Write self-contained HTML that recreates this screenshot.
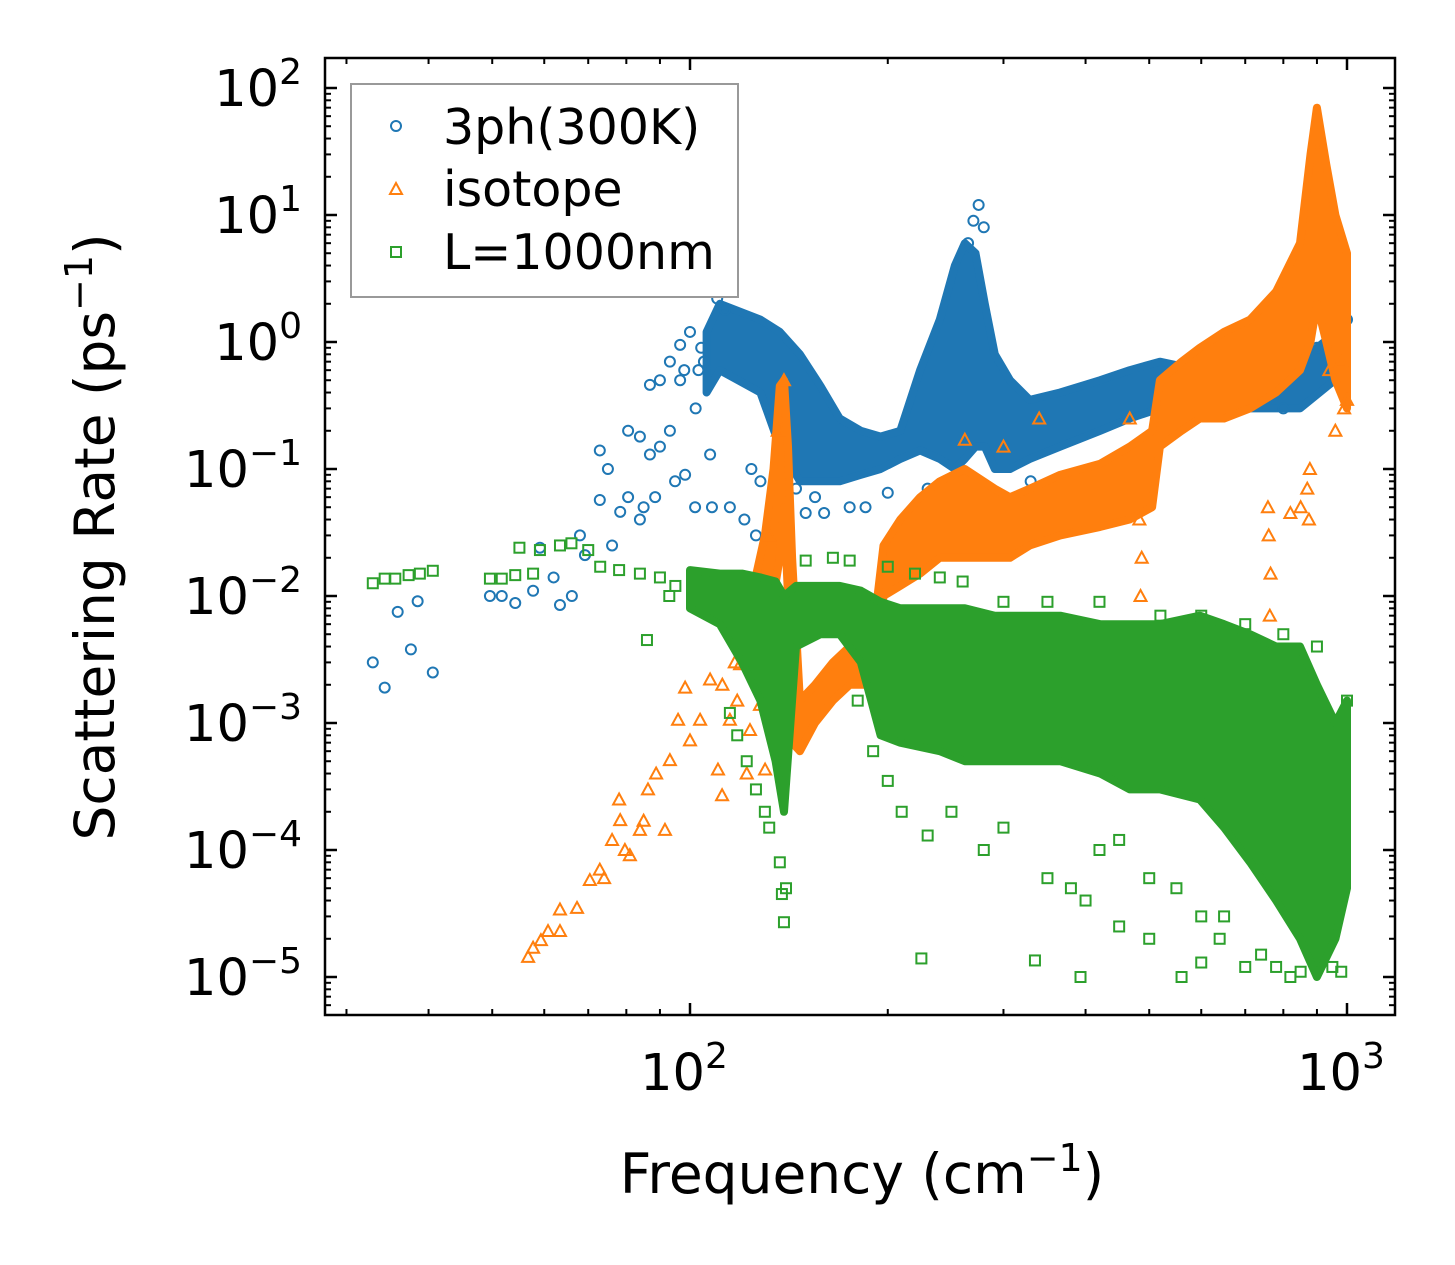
<!DOCTYPE html>
<html><head><meta charset="utf-8">
<style>
html,body{margin:0;padding:0;background:#fff;}
svg{display:block;font-family:"DejaVu Sans","Liberation Sans",sans-serif;}
</style></head>
<body>
<svg id="chart" width="1455" height="1265" viewBox="0 0 1455 1265" xmlns="http://www.w3.org/2000/svg">
<rect width="1455" height="1265" fill="#fff"/>
<g id="plot"></g>
<g id="axes"></g>
<text x="862" y="1193" font-size="55" text-anchor="middle">Frequency (cm<tspan font-size="38" dy="-22">−1</tspan><tspan dy="22">)</tspan></text>
<text transform="translate(114,537) rotate(-90)" font-size="55" text-anchor="middle">Scattering Rate (ps<tspan font-size="38" dy="-22">−1</tspan><tspan dy="22">)</tspan></text>
<g>
<rect x="351" y="84" width="387" height="213" fill="#fff" stroke="#999" stroke-width="2"/>
<circle cx="396" cy="126" r="5" fill="none" stroke="#1f77b4" stroke-width="2"/>
<text x="443" y="144" font-size="49">3ph(300K)</text>
<polygon points="396,183 402,194 390,194" fill="none" stroke="#ff7f0e" stroke-width="2"/>
<text x="443" y="206" font-size="49">isotope</text>
<rect x="391" y="247" width="10" height="10" fill="none" stroke="#2ca02c" stroke-width="2"/>
<text x="443" y="269" font-size="49">L=1000nm</text>
</g>
</svg>
<script>
// ---- data ----
const blueBand = [[106,0.4,1.2],[111,0.6,2.0],[128,0.4,1.5],[137,0.15,1.2],[147,0.08,0.8],[158,0.08,0.45],[169,0.08,0.25],[182,0.09,0.2],[195,0.1,0.18],[209,0.12,0.2],[224,0.14,0.6],[240,0.12,1.5],[253,0.1,4],[262,0.12,6],[272,0.15,5],[281,0.15,2],[291,0.1,0.8],[307,0.1,0.5],[329,0.12,0.35],[366,0.15,0.4],[421,0.2,0.5],[467,0.25,0.6],[519,0.3,0.7],[597,0.3,0.6],[712,0.3,0.6],[848,0.3,0.7],[1000,0.6,1.4]];
const bluePts = [[32.9,0.0030],[34.3,0.0019],[35.9,0.0075],[37.6,0.0038],[38.5,0.0091],[40.6,0.0025],[49.6,0.0100],[51.7,0.0100],[54.2,0.0088],[57.7,0.011],[59.1,0.024],[63.4,0.0085],[66.1,0.010],[69.2,0.021],[72.9,0.057],[76.1,0.025],[78.3,0.046],[80.5,0.06],[83.9,0.04],[86.9,0.13],[88.5,0.06],[90,0.15],[93.2,0.2],[94.9,0.08],[96.6,0.5],[98.3,0.09],[101.8,0.05],[107.3,0.13],[108,0.05],[115,0.05],[121,0.04],[124,0.1],[72.9,0.14],[75,0.1],[80.5,0.2],[83.9,0.18],[86.9,0.46],[90,0.5],[93.2,0.7],[96.6,0.95],[100,1.2],[98,0.6],[105,0.7],[110,2.2],[140,0.05],[150,0.045],[160,0.045],[175,0.05],[185,0.05],[200,0.065],[230,0.07],[250,0.06],[300,0.06],[330,0.08],[133,0.04],[126,0.03],[128,0.08],[275,12],[270,9],[265,6],[280,8],[950,1.3],[1000,1.5],[900,0.9],[800,0.3],[62,0.014],[68,0.03],[85,0.05],[103,0.6],[113,1.8],[104,0.9],[102,0.3],[145,0.07],[155,0.06]];
const orangeBand = [[125,0.004,0.012],[130,0.005,0.03],[134,0.01,0.1],[137,0.02,0.45],[139,0.05,0.5],[141,0.01,0.15],[143,0.0007,0.02],[147,0.0006,0.0015],[155,0.001,0.002],[165,0.0015,0.003],[175,0.002,0.004],[185,0.002,0.006],[192,0.003,0.008],[197,0.01,0.025],[209,0.012,0.04],[224,0.015,0.06],[240,0.02,0.08],[262,0.02,0.1],[291,0.02,0.07],[307,0.02,0.06],[329,0.025,0.07],[366,0.03,0.09],[421,0.035,0.11],[467,0.04,0.15],[505,0.05,0.2],[519,0.15,0.5],[560,0.2,0.7],[597,0.25,0.9],[650,0.25,1.2],[712,0.3,1.5],[780,0.4,2.5],[848,0.6,6],[880,1,30],[900,2,70],[930,1,25],[960,0.5,10],[1000,0.3,5]];
const orangePts = [[56.7,1.44e-5],[57.7,1.7e-5],[59.3,1.95e-5],[60.8,2.3e-5],[63.4,2.3e-5],[63.4,3.4e-5],[67.3,3.5e-5],[70.4,5.8e-5],[72.9,7e-5],[76.1,1.2e-4],[78.3,1.72e-4],[79.6,1e-4],[81,9.1e-5],[83.9,1.44e-4],[86.3,3e-4],[88.8,4e-4],[91.6,1.44e-4],[93.2,5.1e-4],[95.9,1.06e-3],[98.3,1.9e-3],[100,7.3e-4],[103.6,1.06e-3],[107.3,2.2e-3],[110.3,4.3e-4],[111.9,2.7e-4],[115,1.06e-3],[119.2,2.9e-3],[121,6.5e-3],[123.4,8.8e-4],[127.8,1.39e-3],[130.1,4.3e-4],[134.7,1.06e-3],[74,6e-5],[78,2.5e-4],[85,1.7e-4],[117,3e-3],[128,8e-3],[132,0.03],[136,0.2],[139,0.5],[262,0.17],[300,0.15],[340,0.25],[467,0.25],[485,0.01],[487,0.02],[483,0.04],[763,0.007],[765,0.015],[760,0.03],[758,0.05],[875,0.04],[878,0.1],[870,0.07],[990,0.3],[1000,0.35],[960,0.2],[850,0.05],[820,0.045],[940,0.6],[980,0.7],[112,2e-3],[118,1.5e-3],[122,4e-4]];
const greenBand = [[100,0.008,0.016],[111,0.006,0.015],[120,0.003,0.015],[128,0.0015,0.014],[135,0.0005,0.013],[139,0.0002,0.01],[145,0.004,0.012],[158,0.005,0.012],[169,0.005,0.012],[182,0.003,0.011],[195,0.0008,0.009],[209,0.0007,0.008],[240,0.0006,0.008],[262,0.0005,0.008],[291,0.0005,0.007],[329,0.0005,0.007],[366,0.0005,0.007],[421,0.0004,0.006],[467,0.0003,0.006],[519,0.0003,0.006],[597,0.00025,0.007],[650,0.00015,0.006],[712,0.00008,0.005],[780,0.00004,0.004],[848,0.00002,0.004],[900,0.00001,0.002],[960,0.00002,0.001],[1000,0.00005,0.0015]];
const greenPts = [[32.9,0.0126],[34.3,0.0137],[35.6,0.0137],[37.3,0.0146],[38.8,0.015],[40.6,0.0158],[49.6,0.0137],[51.7,0.0137],[54.2,0.0146],[55,0.024],[57.7,0.015],[59.1,0.023],[63.4,0.025],[66,0.026],[70,0.023],[73,0.017],[78,0.016],[83.9,0.015],[90,0.014],[95,0.012],[86,0.0045],[93,0.01],[139,2.7e-5],[138,4.5e-5],[137,8e-5],[140,5e-5],[225,1.4e-5],[335,1.35e-5],[393,1e-5],[400,4e-5],[450,2.5e-5],[500,2e-5],[560,1e-5],[600,1.3e-5],[650,3e-5],[700,1.2e-5],[740,1.5e-5],[780,1.2e-5],[820,1e-5],[850,1.1e-5],[900,1.3e-5],[950,1.2e-5],[980,1.1e-5],[230,1.3e-4],[250,2e-4],[280,1e-4],[300,1.5e-4],[350,6e-5],[380,5e-5],[420,1e-4],[450,1.2e-4],[500,6e-5],[550,5e-5],[600,3e-5],[640,2e-5],[200,3.5e-4],[190,6e-4],[210,2e-4],[180,1.5e-3],[150,0.019],[165,0.02],[175,0.019],[200,0.017],[220,0.015],[240,0.014],[260,0.013],[300,0.009],[350,0.009],[420,0.009],[520,0.007],[600,0.007],[700,0.006],[800,0.005],[900,0.004],[1000,0.0015],[118,8e-4],[122,5e-4],[126,3e-4],[130,2e-4],[115,1.2e-3],[132,1.5e-4]];
const yTickExps = [-5,-4,-3,-2,-1,0,1,2];
const yTickLabels = ["−5","−4","−3","−2","−1","0","1","2"];
const xTickExps = [2,3];
const xTickLabels = ["2","3"];

// ---- axes functions ----
const L=325,R=1395,T=58,B=1015;
function X(f){return 690+657*(Math.log10(f)-2);}
function Y(r){return 88+127*(2-Math.log10(r));}
const NS='http://www.w3.org/2000/svg';
const plot=document.getElementById('plot'), axes=document.getElementById('axes');
function mk(tag,attrs,parent){const e=document.createElementNS(NS,tag);for(const k in attrs)e.setAttribute(k,attrs[k]);parent.appendChild(e);return e;}
const cols={blue:'#1f77b4',orange:'#ff7f0e',green:'#2ca02c'};

function band(data,color,name){
  const pts=data.map(d=>X(d[0]).toFixed(1)+','+Y(d[2]).toFixed(1)).concat(data.slice().reverse().map(d=>X(d[0]).toFixed(1)+','+Y(d[1]).toFixed(1)));
  const p=mk('polygon',{points:pts.join(' '),fill:color,stroke:color,'stroke-width':8,'stroke-linejoin':'round'},plot);
  
  
}
function scatter(data,color,shape,name){
  data.forEach(d=>{
    const x=X(d[0]),y=Y(d[1]);let e;
    if(shape==='c') e=mk('circle',{cx:x,cy:y,r:5,fill:'none',stroke:color,'stroke-width':2},plot);
    else if(shape==='t') e=mk('polygon',{points:`${x},${y-6} ${x+6},${y+5} ${x-6},${y+5}`,fill:'none',stroke:color,'stroke-width':2},plot);
    else e=mk('rect',{x:x-5,y:y-5,width:10,height:10,fill:'none',stroke:color,'stroke-width':2},plot);
    
    
  });
}
band(blueBand,cols.blue,'band-3ph');
scatter(bluePts,cols.blue,'c','point-3ph');
band(orangeBand,cols.orange,'band-isotope');
scatter(orangePts,cols.orange,'t','point-isotope');
band(greenBand,cols.green,'band-boundary');
scatter(greenPts,cols.green,'s','point-boundary');

// frame
const fr=mk('rect',{x:L,y:T,width:R-L,height:B-T,fill:'none',stroke:'#000','stroke-width':2.5},axes);


for(let e=-6;e<=2;e++){
  for(let m=1;m<10;m++){
    const v=m*Math.pow(10,e);const y=Y(v);if(y<T||y>B)continue;
    const len=m===1?12:6,w=m===1?2.5:2;
    mk('line',{x1:L,x2:L+len,y1:y,y2:y,stroke:'#000','stroke-width':w},axes);
    mk('line',{x1:R,x2:R-len,y1:y,y2:y,stroke:'#000','stroke-width':w},axes);
  }
}
yTickExps.forEach((e,i)=>{
  const t=mk('text',{x:302,y:Y(Math.pow(10,e))+18,'font-size':51,'text-anchor':'end'},axes);
  
  
  t.appendChild(document.createTextNode('10'));
  const s=mk('tspan',{dy:-22,'font-size':36},t);s.textContent=yTickLabels[i];
});
for(let e=1;e<=3;e++){
  for(let m=1;m<10;m++){
    const v=m*Math.pow(10,e);const x=X(v);if(x<L||x>R)continue;
    const len=m===1?12:6,w=m===1?2.5:2;
    mk('line',{x1:x,x2:x,y1:B,y2:B-len,stroke:'#000','stroke-width':w},axes);
    mk('line',{x1:x,x2:x,y1:T,y2:T+len,stroke:'#000','stroke-width':w},axes);
  }
}
xTickExps.forEach((e,i)=>{
  const t=mk('text',{x:X(Math.pow(10,e))-6,y:1090,'font-size':51,'text-anchor':'middle'},axes);
  
  
  t.appendChild(document.createTextNode('10'));
  const s=mk('tspan',{dy:-22,'font-size':36},t);s.textContent=xTickLabels[i];
});
</script>
</body></html>
